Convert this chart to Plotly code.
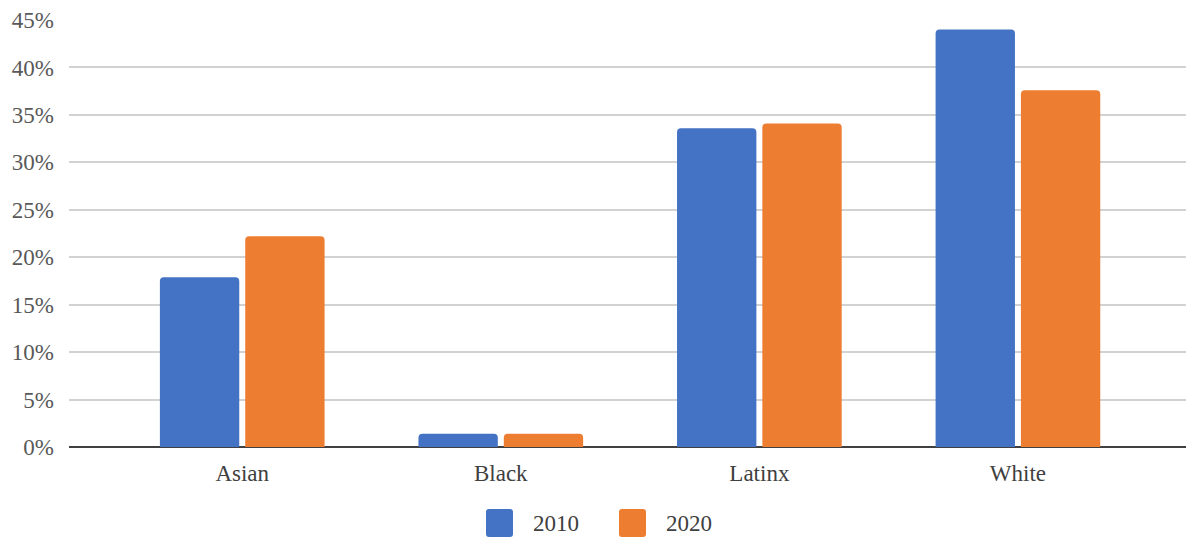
import plotly.graph_objects as go

# Share of group by year
categories = ["Asian", "Black", "Latinx", "White"]
values_2010 = [17.9, 1.4, 33.6, 44.0]
values_2020 = [22.2, 1.4, 34.1, 37.6]
series_names = ["2010", "2020"]
tick_values = [0, 5, 10, 15, 20, 25, 30, 35, 40, 45]
tick_labels = ["0%", "5%", "10%", "15%", "20%", "25%", "30%", "35%", "40%", "45%"]

BLUE = "#4472C4"
ORANGE = "#ED7D31"
FONT = "Liberation Serif"

W, H = 1186, 540
ML, MR, MT, MB = 69, 0, 20, 93

fig = go.Figure()
fig.add_trace(go.Bar(x=categories, y=values_2010, name=series_names[0],
                     marker=dict(color=BLUE, line=dict(width=0))))
fig.add_trace(go.Bar(x=categories, y=values_2020, name=series_names[1],
                     marker=dict(color=ORANGE, line=dict(width=0))))

# legend drawn as rounded swatches + labels below the plot
def px_x(px):
    return (px - ML) / (W - ML - MR)

def px_y(py):
    return (H - MB - py) / (H - MT - MB)

def rounded_rect(x0, y0, x1, y1, r=3):
    pts = [
        ("M", x0 + r, y0), ("L", x1 - r, y0), ("Q", x1, y0, x1, y0 + r),
        ("L", x1, y1 - r), ("Q", x1, y1, x1 - r, y1), ("L", x0 + r, y1),
        ("Q", x0, y1, x0, y1 - r), ("L", x0, y0 + r), ("Q", x0, y0, x0 + r, y0),
    ]
    parts = []
    for p in pts:
        cmd, coords = p[0], p[1:]
        xy = []
        for i in range(0, len(coords), 2):
            xy.append(f"{px_x(coords[i]):.5f},{px_y(coords[i + 1]):.5f}")
        parts.append(cmd + " " + " ".join(xy))
    return " ".join(parts) + " Z"

legend_items = [(486, series_names[0], BLUE), (619, series_names[1], ORANGE)]
for x0, label, color in legend_items:
    fig.add_shape(type="path", xref="paper", yref="paper",
                  path=rounded_rect(x0, 509, x0 + 27, 537),
                  fillcolor=color, line=dict(width=0))
    fig.add_annotation(xref="paper", yref="paper", x=px_x(x0 + 45), y=px_y(523),
                       text=label, showarrow=False, xanchor="left", yanchor="middle",
                       font=dict(family=FONT, size=23, color="#404040"))

fig.update_layout(
    width=W, height=H,
    margin=dict(l=ML, r=MR, t=MT, b=MB, pad=0),
    paper_bgcolor="white", plot_bgcolor="white",
    barmode="group", bargap=0.34, bargroupgap=0.07, barcornerradius=4,
    showlegend=False,
    font=dict(family=FONT, size=23, color="#595959"),
)
fig.update_xaxes(
    range=[-0.67, 3.65], showgrid=False, showline=False, ticks="",
    tickfont=dict(family=FONT, size=23, color="#404040"), ticklabelstandoff=10,
)
fig.update_yaxes(
    range=[0, 45], tickvals=tick_values, ticktext=tick_labels,
    showgrid=True, gridcolor="#d2d2d2", gridwidth=2,
    zeroline=True, zerolinecolor="#404040", zerolinewidth=2,
    showline=False, ticks="", ticklabelstandoff=14,
    tickfont=dict(family=FONT, size=23, color="#595959"),
)

fig.write_html("out.html")
